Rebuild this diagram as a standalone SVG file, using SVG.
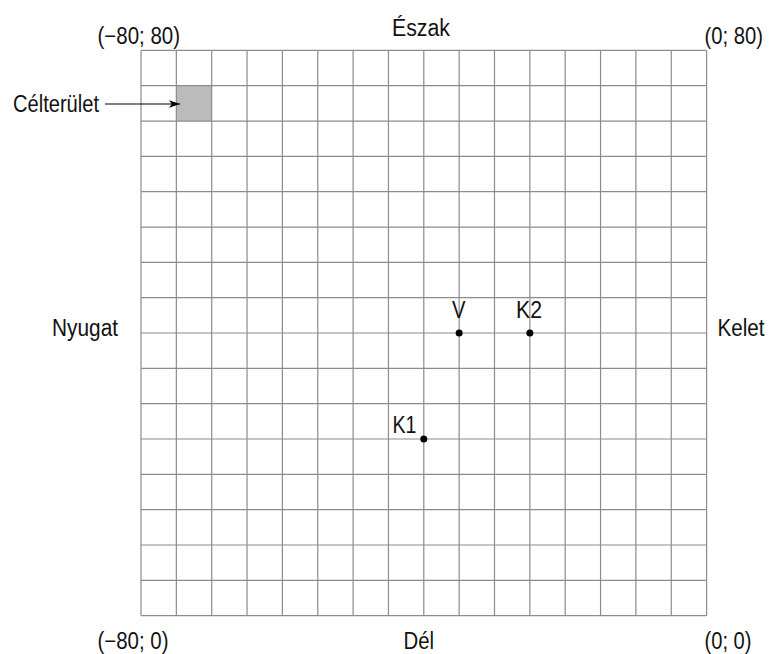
<svg xmlns="http://www.w3.org/2000/svg" width="769" height="654" viewBox="0 0 769 654">
<style>
.lbl{font-family:"Liberation Sans",Arial,Helvetica,sans-serif;font-size:23px;fill:#111}
.grid{fill:none;stroke:#8c8c8c;stroke-width:1.2}
.dot{fill:#000}
.conn{stroke:#000;stroke-width:1.2;fill:none}
</style>
<defs>
<marker id="ah" viewBox="0 0 10 10" refX="10" refY="5" markerWidth="11" markerHeight="11" markerUnits="userSpaceOnUse" orient="auto">
<path d="M0,1.5 L10,5 L0,8.5 L2.5,5 Z" fill="#000"/>
</marker>
</defs>
<rect width="769" height="654" fill="#fff"/>
<g id="target-cell"><rect x="176.35" y="85.7" width="35.35" height="35.35" fill="#bbbbbb"/></g>
<g id="grid">
<path class="grid" d="M141,50.4V615.7M176.35,50.4V615.7M211.7,50.4V615.7M247.05,50.4V615.7M282.4,50.4V615.7M317.75,50.4V615.7M353.1,50.4V615.7M388.45,50.4V615.7M423.8,50.4V615.7M459.15,50.4V615.7M494.5,50.4V615.7M529.85,50.4V615.7M565.2,50.4V615.7M600.55,50.4V615.7M635.9,50.4V615.7M671.25,50.4V615.7M706.6,50.4V615.7"/>
<path class="grid" d="M141,50.4H706.6M141,85.7H706.6M141,121.1H706.6M141,156.4H706.6M141,191.7H706.6M141,227.1H706.6M141,262.4H706.6M141,297.7H706.6M141,333H706.6M141,368.4H706.6M141,403.7H706.6M141,439H706.6M141,474.4H706.6M141,509.7H706.6M141,545H706.6M141,580.4H706.6M141,615.7H706.6"/>
</g>
<g id="corner-labels">
<text class="lbl" x="97.5" y="43.5" textLength="82.5" lengthAdjust="spacingAndGlyphs">(−80; 80)</text>
<text class="lbl" transform="translate(704.5,43.5) scale(0.88,1)">(0; 80)</text>
<text class="lbl" x="97.5" y="649" textLength="71" lengthAdjust="spacingAndGlyphs">(−80; 0)</text>
<text class="lbl" x="704.5" y="649" textLength="47" lengthAdjust="spacingAndGlyphs">(0; 0)</text>
</g>
<g id="directions">
<text class="lbl" x="392" y="36" textLength="58" lengthAdjust="spacingAndGlyphs">Észak</text>
<text class="lbl" x="403.5" y="649" textLength="30.5" lengthAdjust="spacingAndGlyphs">Dél</text>
<text class="lbl" x="52" y="336" textLength="66" lengthAdjust="spacingAndGlyphs">Nyugat</text>
<text class="lbl" x="717.5" y="336" textLength="47" lengthAdjust="spacingAndGlyphs">Kelet</text>
</g>
<g id="label-celterulet"><text class="lbl" x="13" y="111.5" textLength="86" lengthAdjust="spacingAndGlyphs">Célterület</text></g>
<g id="point-V"><circle class="dot" cx="459.15" cy="333" r="3.5"/><text class="lbl" x="452" y="318" textLength="13.5" lengthAdjust="spacingAndGlyphs">V</text></g>
<g id="point-K2"><circle class="dot" cx="529.85" cy="333" r="3.5"/><text class="lbl" x="516" y="318" textLength="26" lengthAdjust="spacingAndGlyphs">K2</text></g>
<g id="point-K1"><circle class="dot" cx="423.8" cy="439" r="3.5"/><text class="lbl" x="392.5" y="433" textLength="24" lengthAdjust="spacingAndGlyphs">K1</text></g>
<g id="connectors"><path class="conn" d="M105,104H180" marker-end="url(#ah)"/></g>
</svg>
